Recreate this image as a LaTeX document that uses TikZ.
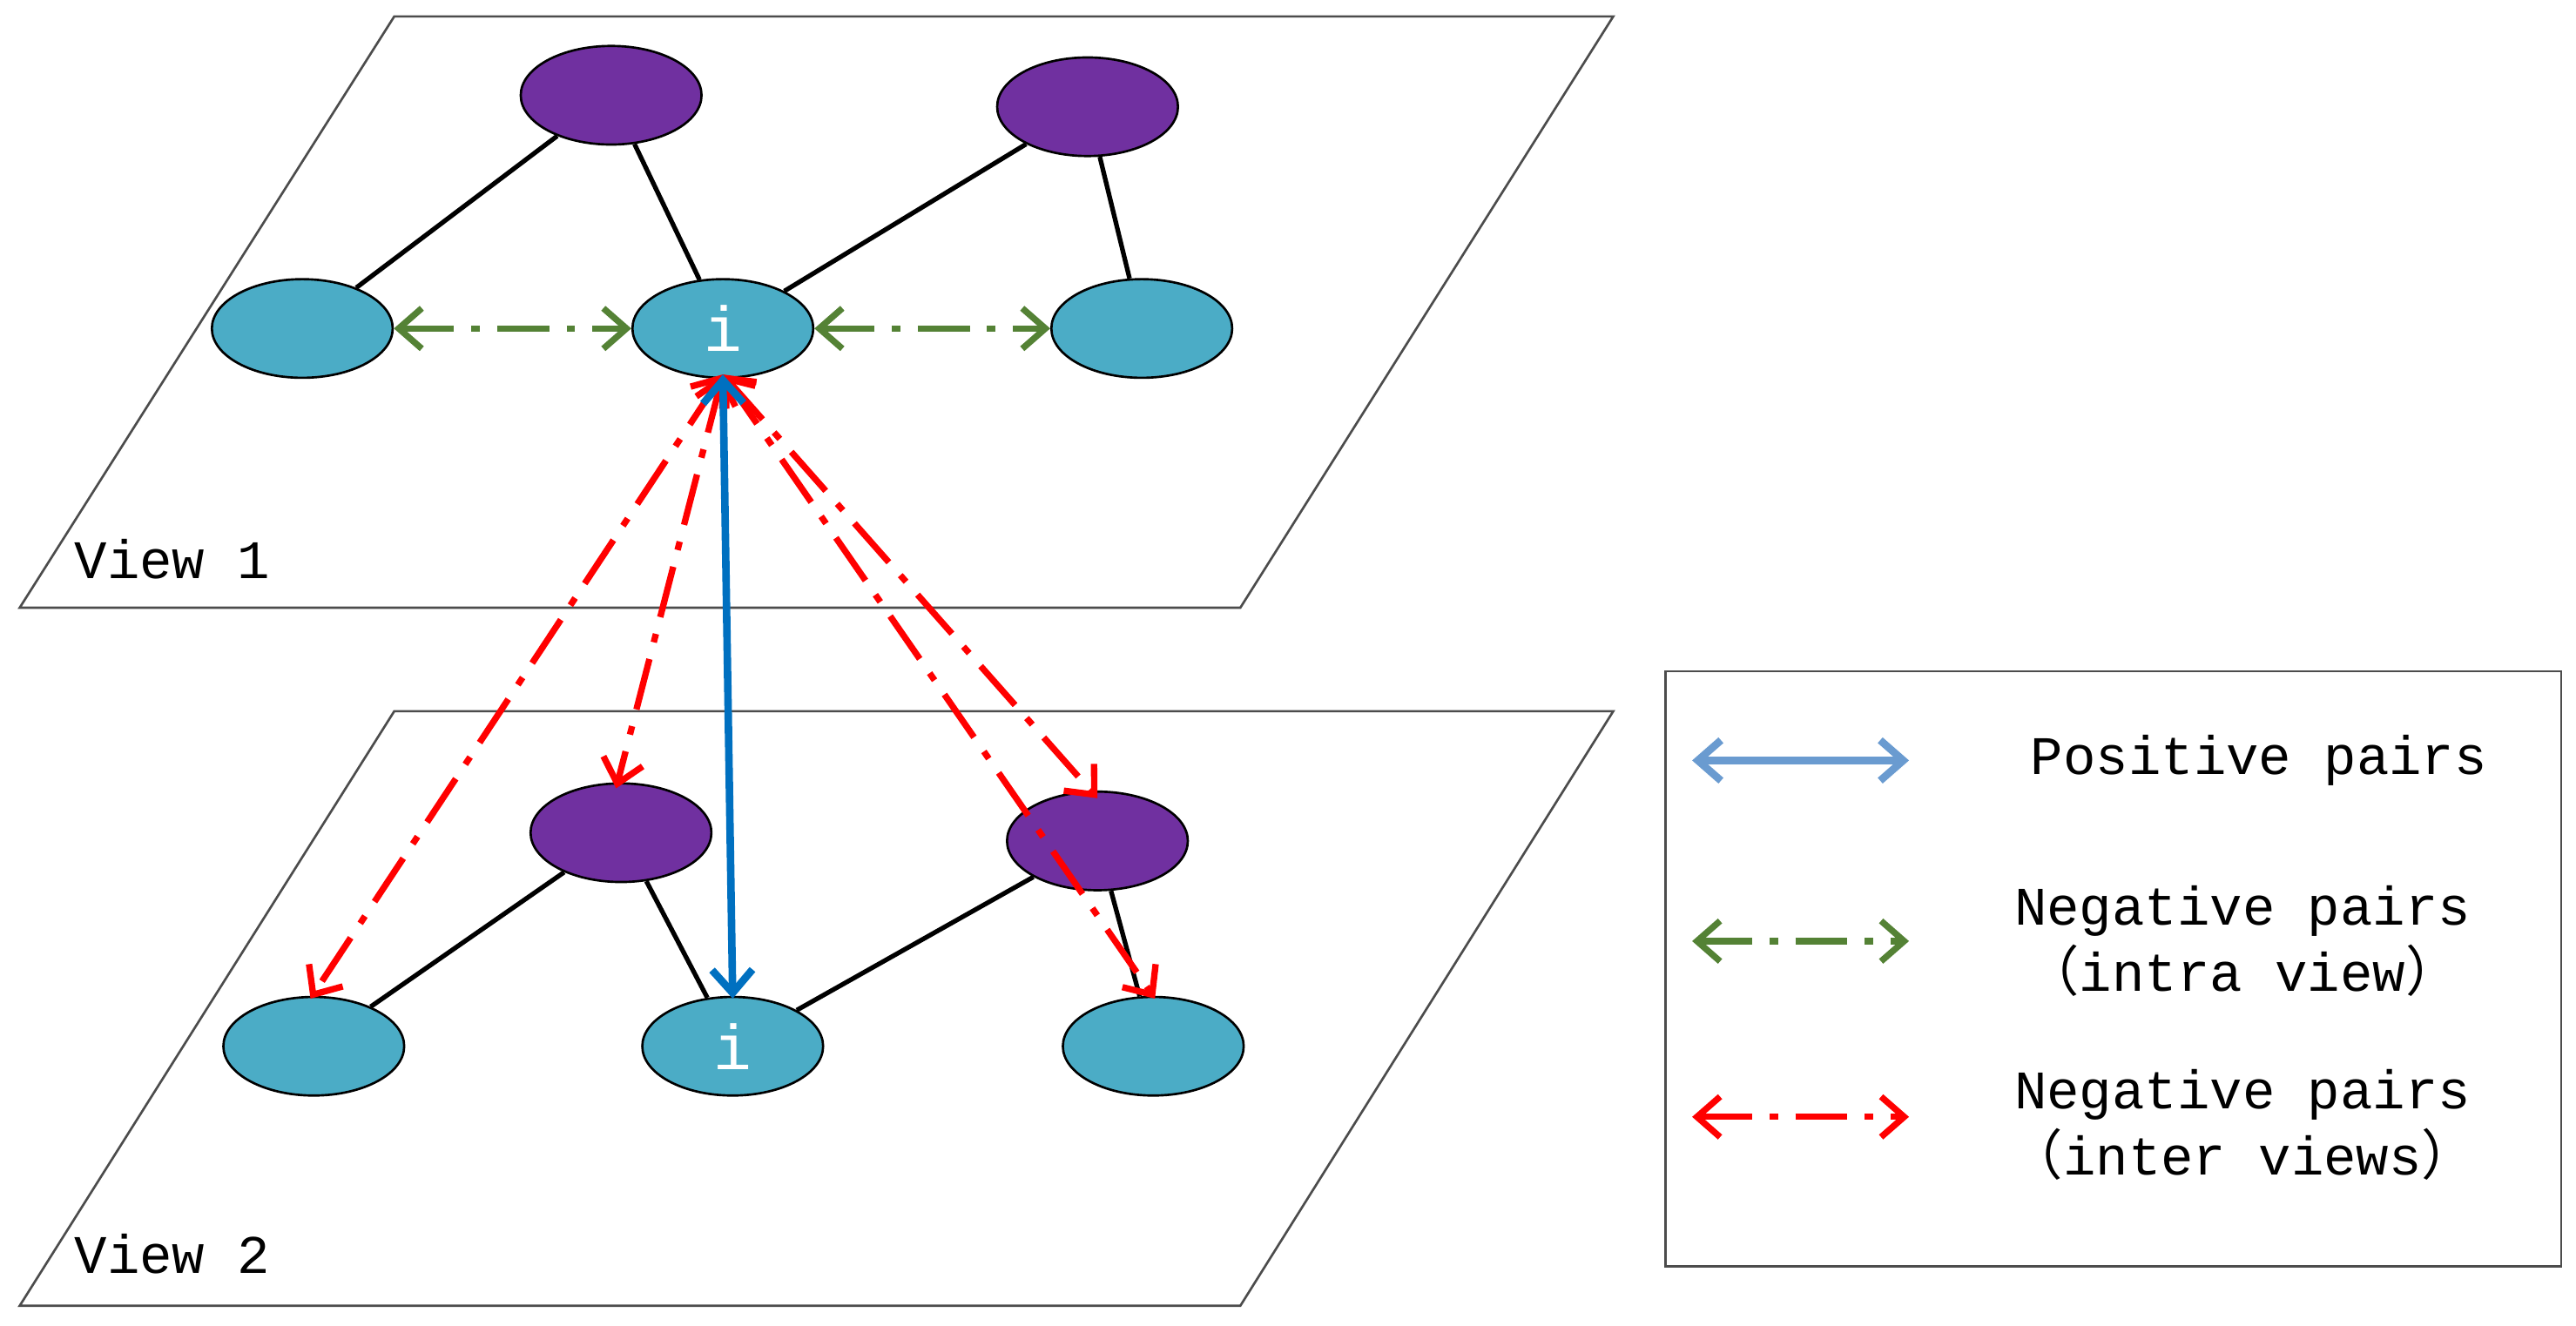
\documentclass[tikz,border=0pt]{standalone}
\usepackage{fontspec}
\setmainfont{Liberation Mono}
\newfontfamily\cjk{Noto Sans CJK SC}
\usetikzlibrary{arrows.meta,shapes.geometric}
\definecolor{pu}{HTML}{7030A0}
\definecolor{cy}{HTML}{4BACC6}
\definecolor{gr}{HTML}{548235}
\definecolor{bl}{HTML}{0070C0}
\definecolor{lb}{HTML}{6A9BD0}
\begin{document}
\begin{tikzpicture}[x=0.01cm,y=-0.01cm,
 plane/.style={draw=black!70,line width=0.4pt},
 pur/.style={ellipse,draw=black,fill=pu,minimum width=1.1cm,minimum height=0.6cm,inner sep=0pt},
 cya/.style={ellipse,draw=black,fill=cy,minimum width=1.1cm,minimum height=0.6cm,inner sep=0pt,text=white,font=\fontsize{11pt}{13pt}\selectfont},
 edge/.style={line width=0.8pt},
 tip/.style={{Straight Barb[length=4pt,width=7pt]}-{Straight Barb[length=4pt,width=7pt]}},
 grn/.style={tip,draw=gr,line width=1.1pt,dash pattern=on 9pt off 3pt on 1.5pt off 3pt},
 red/.style={tip,draw=red,line width=1.1pt,dash pattern=on 9pt off 3pt on 1.5pt off 3pt},
 blu/.style={tip,draw=bl,line width=1.3pt},
 lab/.style={font=\fontsize{9.4pt}{11.5pt}\selectfont,align=center}]
\useasboundingbox (0,0) rectangle (1568,807);
\draw[plane] (12,370) -- (755,370) -- (982,10) -- (240,10) -- cycle;
\draw[plane] (12,795) -- (755,795) -- (982,433) -- (240,433) -- cycle;
\node[lab,anchor=base west] (v1) at (33,352) {View 1};
\node[lab,anchor=base west] (v2) at (33,775) {View 2};
% top
\node[pur] (tp1) at (372,58) {};
\node[pur] (tp2) at (662,65) {};
\node[cya] (tc1) at (184,200) {};
\node[cya] (ti) at (440,200) {i};
\node[cya] (tc2) at (695,200) {};
% bottom
\node[pur] (bp1) at (378,507) {};
\node[pur] (bp2) at (668,512) {};
\node[cya] (bc1) at (191,637) {};
\node[cya] (bi) at (446,637) {i};
\node[cya] (bc2) at (702,637) {};
\foreach \a/\b in {tc1/tp1,tp1/ti,ti/tp2,tp2/tc2,bc1/bp1,bp1/bi,bi/bp2,bp2/bc2}
  \draw[edge] (\a) -- (\b);
\draw[grn] (tc1) -- (ti);
\draw[grn] (ti) -- (tc2);
\coordinate (s) at (440,228);
\coordinate (e1) at (189,608);
\coordinate (e2) at (375,480);
\coordinate (e3) at (668,486);
\coordinate (e4) at (703,608);
\coordinate (e5) at (446,608);
\draw[red] (s) -- (e1);
\draw[red] (s) -- (e2);
\draw[red] (s) -- (e3);
\draw[red] (s) -- (e4);
\draw[blu] (s) -- (e5);
% legend
\node[draw=black!70,minimum width=5.45cm,minimum height=3.62cm,anchor=north west,inner sep=0pt] (leg) at (1013,408) {};
\coordinate (a1) at (1030,463); \coordinate (b1) at (1162,463);
\coordinate (a2) at (1030,573); \coordinate (b2) at (1162,573);
\coordinate (a3) at (1030,680); \coordinate (b3) at (1162,680);
\draw[blu,draw=lb] (a1) -- (b1);
\draw[grn] (a2) -- (b2);
\draw[red] (a3) -- (b3);
\node[lab] (l1) at (1375,463) {Positive pairs};
\node[lab] (l2) at (1365,573) {Negative pairs\\{\cjk （}intra view{\cjk ）}};
\node[lab] (l3) at (1365,685) {Negative pairs\\{\cjk （}inter views{\cjk ）}};
\end{tikzpicture}
\end{document}
